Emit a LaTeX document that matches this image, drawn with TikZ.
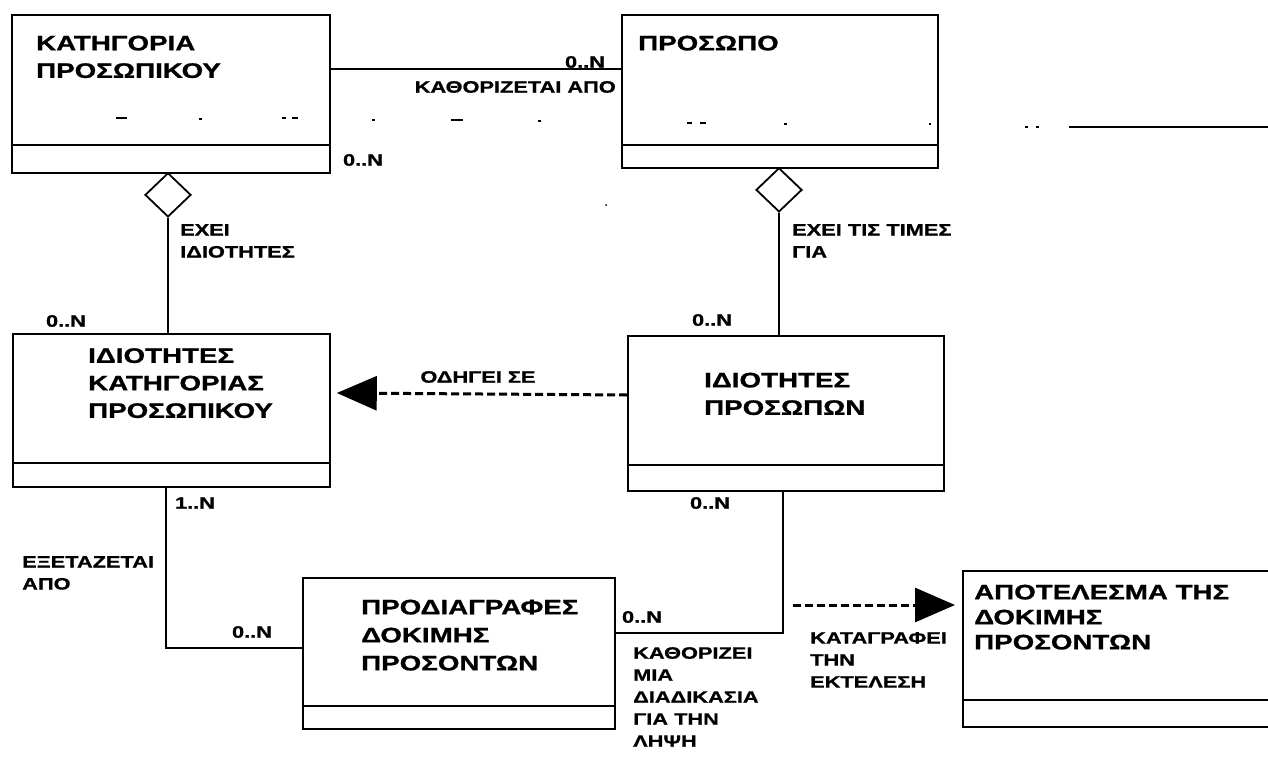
\documentclass[tikz,border=0pt]{standalone}
\usepackage{fontspec}
\setmainfont{Liberation Sans}[FakeStretch=1.32, FakeBold=1]
\usetikzlibrary{shapes.geometric,arrows.meta}
\tikzset{
  cls/.style={draw, line width=1.8pt, inner sep=0pt, anchor=north west},
  div/.style={line width=1.8pt},
  ttl/.style={font=\bfseries\fontsize{21}{27.5}\selectfont, align=left, anchor=north west, inner sep=0pt},
  lbl/.style={font=\bfseries\fontsize{16.5}{22}\selectfont, align=left, inner sep=0pt},
  conn/.style={line width=2pt},
  dasharrow/.style={line width=3pt, dash pattern=on 8pt off 4pt, -{Triangle[length=40pt,width=34pt]}},
  diam/.style={diamond, draw, line width=1.8pt, fill=white, inner sep=0pt, minimum width=46pt, minimum height=44pt},
  junk/.style={line width=1.4pt}
}
\begin{document}
\begin{tikzpicture}[x=1pt,y=-1pt]
\useasboundingbox[fill=white] (0,0) rectangle (1268,759);
% boxes
\node[cls, minimum width=318pt, minimum height=158pt] (b1) at (11,14) {};
\node[cls, minimum width=316pt, minimum height=153pt] (b2) at (621,14) {};
\node[cls, minimum width=317pt, minimum height=153pt] (b3) at (12,333) {};
\node[cls, minimum width=316pt, minimum height=155pt] (b5) at (627,335) {};
\node[cls, minimum width=312pt, minimum height=151pt] (b4) at (302,577) {};
\node[cls, minimum width=330pt, minimum height=156pt] (b6) at (962,570) {};
% dividers
\draw[div] ([yshift=29pt]b1.south west) -- ([yshift=29pt]b1.south east);
\draw[div] ([yshift=24pt]b2.south west) -- ([yshift=24pt]b2.south east);
\draw[div] ([yshift=25pt]b3.south west) -- ([yshift=25pt]b3.south east);
\draw[div] ([yshift=27pt]b5.south west) -- ([yshift=27pt]b5.south east);
\draw[div] ([yshift=24pt]b4.south west) -- ([yshift=24pt]b4.south east);
\draw[div] ([yshift=28pt]b6.south west) -- ([yshift=28pt]b6.south east);
% titles
\node[ttl] (t1) at (36,35.5) {ΚΑΤΗΓΟΡΙΑ\\ΠΡΟΣΩΠΙΚΟΥ};
\node[ttl] (t2) at (638,35.5) {ΠΡΟΣΩΠΟ};
\node[ttl] (t3) at (88,348) {ΙΔΙΟΤΗΤΕΣ\\ΚΑΤΗΓΟΡΙΑΣ\\ΠΡΟΣΩΠΙΚΟΥ};
\node[ttl] (t5) at (704,372.5) {ΙΔΙΟΤΗΤΕΣ\\ΠΡΟΣΩΠΩΝ};
\node[ttl, font=\bfseries\fontsize{21}{28}\selectfont] (t4) at (361,599.5) {ΠΡΟΔΙΑΓΡΑΦΕΣ\\ΔΟΚΙΜΗΣ\\ΠΡΟΣΟΝΤΩΝ};
\node[ttl, font=\bfseries\fontsize{21}{25}\selectfont] (t6) at (974,584.5) {ΑΠΟΤΕΛΕΣΜΑ ΤΗΣ\\ΔΟΚΙΜΗΣ\\ΠΡΟΣΟΝΤΩΝ};
% diamonds
\node[diam, anchor=north] (d1) at (168,172) {};
\node[diam, anchor=north] (d2) at (779,167) {};
% connectors
\draw[conn] ([yshift=-55pt]b1.north east) -- ([yshift=-55pt]b2.north west);
\draw[conn] (d1.south) -- (d1.south |- b3.north);
\draw[conn] (d2.south) -- (d2.south |- b5.north);
\draw[dasharrow] ([yshift=-60pt]b5.north west) -- ([yshift=-60pt, xshift=6pt]b3.north east);
\draw[conn] ([xshift=154pt]b3.south west) |- ([yshift=-71pt]b4.north west);
\draw[conn] ([xshift=156pt]b5.south west) |- ([yshift=-56pt]b4.north east);
\coordinate (as) at (793,605);
\coordinate (ae) at (955,605);
\draw[dasharrow] (as) -- (ae);
% labels
\node[lbl] (m1) at (585,62) {0..N};
\node[lbl, anchor=east] (l1) at (616,87) {ΚΑΘΟΡΙΖΕΤΑΙ ΑΠΟ};
\node[lbl] (m2) at (363,160) {0..N};
\node[lbl, anchor=north west] (l2) at (180,224) {ΕΧΕΙ\\ΙΔΙΟΤΗΤΕΣ};
\node[lbl, anchor=north west] (l3) at (792,224) {ΕΧΕΙ ΤΙΣ ΤΙΜΕΣ\\ΓΙΑ};
\node[lbl] (m3) at (66,321) {0..N};
\node[lbl] (m4) at (712,320) {0..N};
\node[lbl] (l4) at (478,377) {ΟΔΗΓΕΙ ΣΕ};
\node[lbl] (m5) at (195,503) {1..N};
\node[lbl] (m6) at (710,503) {0..N};
\node[lbl, anchor=north west] (l5) at (22,556) {ΕΞΕΤΑΖΕΤΑΙ\\ΑΠΟ};
\node[lbl] (m7) at (252,632) {0..N};
\node[lbl] (m8) at (642,617) {0..N};
\node[lbl, anchor=north west] (l6) at (633,647) {ΚΑΘΟΡΙΖΕΙ\\ΜΙΑ\\ΔΙΑΔΙΚΑΣΙΑ\\ΓΙΑ ΤΗΝ\\ΛΗΨΗ};
\node[lbl, anchor=north west] (l7) at (810,632) {ΚΑΤΑΓΡΑΦΕΙ\\ΤΗΝ\\ΕΚΤΕΛΕΣΗ};
% scan marks
\draw[junk] (116,118) -- (127,118) (199,119) -- (202,119) (282,118) -- (286,118) (292,118) -- (298,118)
  (372,120) -- (375,120) (451,120) -- (463,120) (538,121) -- (541,121)
  (687,123) -- (692,123) (700,123) -- (706,123) (784,124) -- (787,124) (929,124) -- (931,124)
  (1025,127) -- (1028,127) (1036,127) -- (1039,127) (1069,127) -- (1268,127);
\fill (606,205) circle (1pt);
\end{tikzpicture}
\end{document}
